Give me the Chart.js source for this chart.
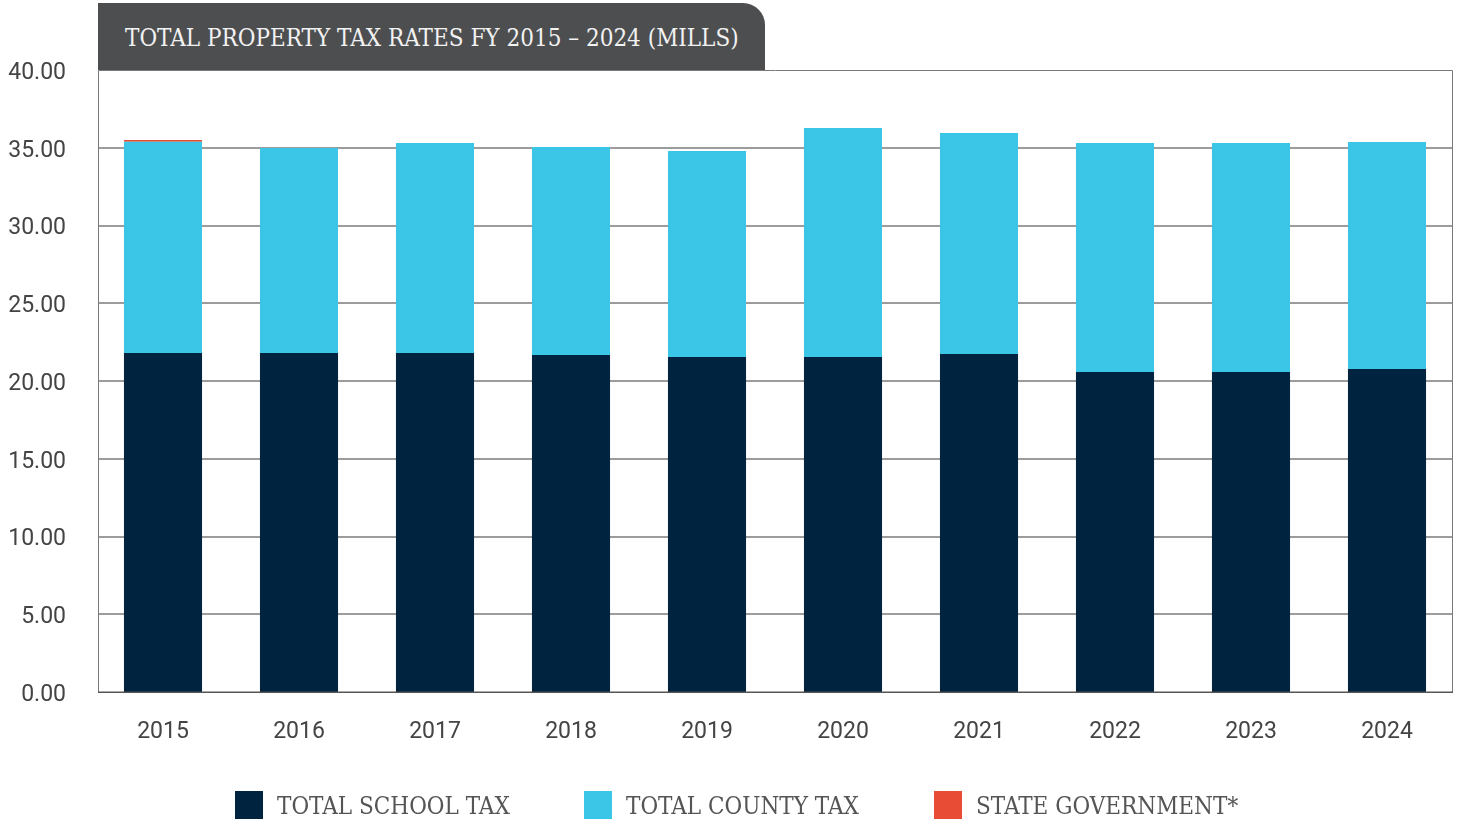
<!DOCTYPE html>
<html>
<head>
<meta charset="utf-8">
<script src="https://cdn.jsdelivr.net/npm/chart.js@4.4.1/dist/chart.umd.min.js"></script>
<style>
  html, body { margin: 0; padding: 0; background: #ffffff; }
  #wrap { position: relative; width: 1461px; height: 819px; }
  #chart { position: absolute; left: 0; top: 0; }
  #titleTab {
    position: absolute; left: 98px; top: 3px; width: 667px; height: 67px;
    background: #4d4e50; border-top-right-radius: 22px; box-sizing: border-box;
    padding-left: 27px; line-height: 71px; color: #f2f2f2;
    font-family: "DejaVu Serif Condensed", "DejaVu Serif", serif; font-size: 24px;
    white-space: nowrap;
  }
  #legend {
    position: absolute; top: 791px; left: 0; width: 1461px; height: 30px;
    font-family: "DejaVu Serif Condensed", "DejaVu Serif", serif; font-size: 24px; color: #555;
  }
  .item { position: absolute; top: 0; height: 28px; line-height: 30px; white-space: nowrap; }
  .swatch { position: absolute; left: 0; top: 0; width: 28px; height: 28px; }
  .label { position: absolute; left: 42px; top: 0; }
</style>
</head>
<body>
<div id="wrap">
  <canvas id="chart" width="1461" height="819"></canvas>
  <div id="titleTab">TOTAL PROPERTY TAX RATES FY 2015 – 2024 (MILLS)</div>
  <div id="legend"></div>
</div>
<script>
// Fiscal years
const years = ['2015', '2016', '2017', '2018', '2019', '2020', '2021', '2022', '2023', '2024'];
// Millage by component (mills)
const schoolTax = [21.80, 21.80, 21.80, 21.67, 21.54, 21.54, 21.74, 20.58, 20.58, 20.77];
const countyTax = [13.59, 13.18, 13.51, 13.38, 13.25, 14.73, 14.21, 14.73, 14.73, 14.60];
const stateGov  = [0.11, 0, 0, 0, 0, 0, 0, 0, 0, 0];
const seriesNames = ['TOTAL SCHOOL TAX', 'TOTAL COUNTY TAX', 'STATE GOVERNMENT*'];
const seriesColors = ['#00233f', '#3bc6e8', '#e84c35'];
const yTicks = [0, 5, 10, 15, 20, 25, 30, 35, 40];

// Plot frame edges (slightly inset from the category band edges)
const frameLeft = 98, frameRight = 1453;

// Gridlines and frame drawn behind/around the bars
const framePlugin = {
  id: 'frame',
  beforeDatasetsDraw(chart) {
    const { ctx } = chart;
    const y = chart.scales.y;
    ctx.save();
    ctx.strokeStyle = '#9c9c9c';
    ctx.lineWidth = 2;
    yTicks.forEach(v => {
      if (v === y.min || v === y.max) return;
      const py = Math.round(y.getPixelForValue(v));
      ctx.beginPath();
      ctx.moveTo(frameLeft, py);
      ctx.lineTo(frameRight, py);
      ctx.stroke();
    });
    ctx.restore();
  },
  afterDatasetsDraw(chart) {
    const { ctx, chartArea: a } = chart;
    ctx.save();
    ctx.strokeStyle = '#7a7a7a';
    ctx.lineWidth = 1;
    ctx.beginPath();
    ctx.moveTo(frameLeft + 0.5, a.bottom);
    ctx.lineTo(frameLeft + 0.5, a.top + 0.5);
    ctx.lineTo(frameRight - 0.5, a.top + 0.5);
    ctx.lineTo(frameRight - 0.5, a.bottom);
    ctx.stroke();
    ctx.strokeStyle = '#555555';
    ctx.lineWidth = 1.5;
    ctx.beginPath();
    ctx.moveTo(frameLeft, a.bottom + 0.25);
    ctx.lineTo(frameRight, a.bottom + 0.25);
    ctx.stroke();
    ctx.restore();
  }
};

new Chart(document.getElementById('chart'), {
  type: 'bar',
  data: {
    labels: years,
    datasets: [
      { label: seriesNames[0], data: schoolTax, backgroundColor: seriesColors[0] },
      { label: seriesNames[1], data: countyTax, backgroundColor: seriesColors[1] },
      { label: seriesNames[2], data: stateGov, backgroundColor: seriesColors[2] }
    ]
  },
  options: {
    responsive: false,
    animation: false,
    layout: { padding: { left: 0, right: 6, top: 70, bottom: 67 } },
    datasets: { bar: { categoryPercentage: 0.574, barPercentage: 1.0, borderWidth: 0 } },
    plugins: { legend: { display: false }, tooltip: { enabled: false }, title: { display: false } },
    scales: {
      x: {
        stacked: true,
        afterFit(scale) { scale.height = 60; },
        grid: { display: false, drawTicks: false },
        border: { display: false },
        ticks: { color: '#444444', font: { family: 'Roboto', size: 23 }, padding: 26 }
      },
      y: {
        stacked: true,
        min: 0, max: 40,
        afterFit(scale) { scale.width = 95; },
        afterBuildTicks(scale) { scale.ticks = yTicks.map(v => ({ value: v })); },
        grid: { display: false, drawTicks: false },
        border: { display: false },
        ticks: {
          color: '#444444', font: { family: 'Roboto', size: 23 }, padding: 29, labelOffset: 3,
          callback: v => Number(v).toFixed(2)
        }
      }
    }
  },
  plugins: [framePlugin]
});

// Legend row under the chart
const legendPos = [235, 584, 934];
const legend = document.getElementById('legend');
seriesNames.forEach((name, i) => {
  const item = document.createElement('div');
  item.className = 'item';
  item.style.left = legendPos[i] + 'px';
  item.innerHTML = '<span class="swatch" style="background:' + seriesColors[i] + '"></span><span class="label"></span>';
  item.querySelector('.label').textContent = name;
  legend.appendChild(item);
});
</script>
</body>
</html>
